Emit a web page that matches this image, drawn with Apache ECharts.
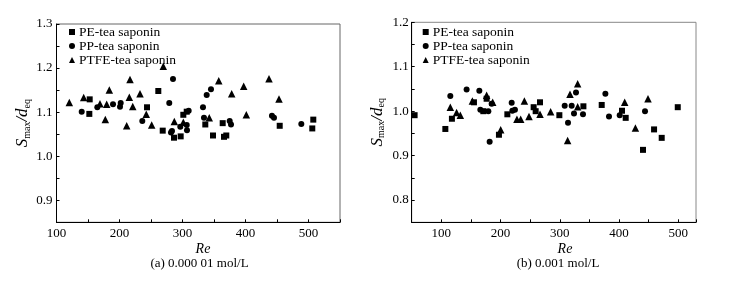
<!DOCTYPE html>
<html><head><meta charset="utf-8">
<script src="https://cdn.jsdelivr.net/npm/echarts@6/dist/echarts.min.js"></script>
<style>html,body{margin:0;padding:0;background:#fff}#c{width:740px;height:281px}</style>
</head><body><div id="c"></div>
<script>
const seriesNames = ['PE-tea saponin', 'PP-tea saponin', 'PTFE-tea saponin'];
const xTicksA = [100, 200, 300, 400, 500];
const xTicksB = [100, 200, 300, 400, 500];
const yTicksA = [0.9, 1.0, 1.1, 1.2, 1.3];
const yTicksB = [0.8, 0.9, 1.0, 1.1, 1.2];
const captionA = '(a) 0.000 01 mol/L';
const captionB = '(b) 0.001 mol/L';

// (a) 0.000 01 mol/L
const peA = [[152.7,1.129],[152.1,1.096],[243.7,1.111],[261.6,1.148],[268.6,1.058],[286.5,1.042],[297.1,1.045],[301.3,1.094],[306.7,1.101],[336.2,1.072],[348.4,1.047],[363.8,1.075],[365.9,1.044],[369.5,1.047],[454.3,1.069],[507.6,1.083],[506.0,1.063]];
const ppA = [[140.0,1.101],[164.8,1.111],[189.7,1.118],[201.9,1.121],[200.8,1.112],[236.2,1.080],[284.9,1.175],[279.0,1.121],[281.7,1.054],[283.3,1.057],[296.5,1.067],[309.8,1.103],[306.7,1.071],[307.1,1.059],[332.5,1.111],[338.4,1.139],[345.2,1.152],[334.1,1.087],[374.9,1.080],[377.0,1.072],[442.0,1.092],[445.2,1.087],[488.6,1.073]];
const ptfeA = [[120.3,1.122],[143.2,1.133],[169.0,1.119],[179.7,1.118],[183.8,1.150],[177.5,1.083],[216.7,1.174],[215.6,1.134],[221.0,1.113],[232.5,1.142],[211.4,1.069],[242.5,1.095],[251.1,1.071],[269.5,1.204],[287.0,1.079],[301.3,1.077],[342.5,1.087],[357.5,1.171],[378.1,1.142],[397.1,1.159],[401.3,1.094],[437.3,1.176],[453.2,1.130]];

// (b) 0.001 mol/L
const peB = [[54.9,0.991],[106.8,0.960],[117.9,0.983],[155.1,1.020],[176.5,1.028],[170.9,1.000],[197.3,0.947],[211.5,0.993],[255.9,1.009],[259.3,1.000],[266.6,1.020],[299.3,0.991],[339.9,1.011],[370.8,1.014],[405.1,1.001],[411.3,0.985],[440.5,0.913],[459.2,0.959],[472.1,0.940],[499.2,1.009]];
const ppB = [[115.2,1.034],[142.7,1.049],[164.2,1.046],[185.0,1.017],[165.9,1.003],[179.4,1.000],[181.6,0.931],[218.8,1.019],[219.9,1.001],[224.3,1.003],[308.3,1.012],[313.9,0.974],[320.1,1.012],[324.0,0.995],[327.4,1.042],[339.2,0.993],[377.0,1.039],[383.1,0.988],[401.2,0.991],[443.9,1.000]];
const ptfeB = [[115.2,1.009],[125.8,0.997],[132.1,0.991],[152.4,1.023],[176.5,1.036],[186.7,1.020],[200.2,0.958],[227.7,0.982],[234.0,0.982],[240.2,1.023],[248.0,0.988],[266.6,0.993],[284.6,0.999],[313.3,0.934],[317.3,1.038],[330.2,1.062],[330.2,1.010],[409.6,1.020],[427.7,0.962],[449.0,1.028]];

const FONT = 'Liberation Serif';
const chart = echarts.init(document.getElementById('c'), null, {renderer: 'canvas'});

function near(v, list) { return list.some(t => Math.abs(t - v) < 1e-6); }

function xAxis(idx, min, max, ticks) {
  return {
    type: 'value', gridIndex: idx, min: min, max: max, interval: 50,
    axisLine: {show: true, lineStyle: {color: '#000', width: 1}},
    axisTick: {show: true, inside: true, length: 3, lineStyle: {color: '#000'}},
    splitLine: {show: false},
    axisLabel: {color: '#000', fontFamily: FONT, fontSize: 13, margin: 5,
      showMinLabel: true, showMaxLabel: true,
      formatter: v => near(v, ticks) ? String(Math.round(v)) : ''}
  };
}
function yAxis(idx, min, max, ticks, gap, margin) {
  return {
    type: 'value', gridIndex: idx, min: min, max: max, interval: 0.05,
    axisLine: {show: true, lineStyle: {color: '#000', width: 1}},
    axisTick: {show: true, inside: true, length: 3, lineStyle: {color: '#000'}},
    splitLine: {show: false},
    axisLabel: {color: '#000', fontFamily: FONT, fontSize: 13, margin: margin,
      formatter: v => near(v, ticks) ? v.toFixed(1) : ''},
    name: '{s|S}{sub|max}{s|/d}{sub|eq}',
    nameLocation: 'middle', nameRotate: 90, nameGap: gap,
    nameTextStyle: {rich: {
      s: {fontFamily: FONT, fontStyle: 'italic', fontSize: 17, color: '#000'},
      sub: {fontFamily: FONT, fontSize: 10, color: '#000', padding: [9, 0, 0, 0]}
    }}
  };
}
function scatter(name, data, idx, symbol, size) {
  return {type: 'scatter', name: name, data: data, xAxisIndex: idx, yAxisIndex: idx,
    symbol: symbol, symbolSize: size, itemStyle: {color: '#000', opacity: 1},
    emphasis: {disabled: true}, silent: true};
}
function legend(left) {
  return {orient: 'vertical', left: left, top: 25, itemGap: 0, itemWidth: 6, itemHeight: 6,
    selectedMode: false, padding: 0,
    textStyle: {fontFamily: FONT, fontSize: 13.5, color: '#000', lineHeight: 12, padding: [0, 0, 0, -1]},
    data: [{name: seriesNames[0], icon: 'rect'}, {name: seriesNames[1], icon: 'circle'}, {name: seriesNames[2], icon: 'triangle'}]};
}

chart.setOption({
  animation: false,
  backgroundColor: '#fff',
  grid: [
    {left: 56.5, top: 24, width: 283.5, height: 198.3, show: true, borderColor: '#666', borderWidth: 1, containLabel: false},
    {left: 411.7, top: 22.3, width: 284.3, height: 200, show: true, borderColor: '#888', borderWidth: 1, containLabel: false}
  ],
  xAxis: [xAxis(0, 100, 550, xTicksA), xAxis(1, 50, 530, xTicksB)],
  yAxis: [yAxis(0, 0.85, 1.3, yTicksA, 21, 4), yAxis(1, 0.75, 1.2, yTicksB, 25, 3)],
  legend: [legend(69), legend(422.7)],
  series: [
    scatter(seriesNames[0], peA, 0, 'rect', 6),
    scatter(seriesNames[1], ppA, 0, 'circle', 6),
    scatter(seriesNames[2], ptfeA, 0, 'triangle', 7.5),
    scatter(seriesNames[0], peB, 1, 'rect', 6),
    scatter(seriesNames[1], ppB, 1, 'circle', 6),
    scatter(seriesNames[2], ptfeB, 1, 'triangle', 7.5)
  ],
  graphic: [
    {type: 'text', x: 203, y: 249, style: {text: 'Re', font: 'italic 14px "Liberation Serif"', fill: '#000', align: 'center', verticalAlign: 'middle'}},
    {type: 'text', x: 199.5, y: 264, style: {text: captionA, font: '13px "Liberation Serif"', fill: '#000', align: 'center', verticalAlign: 'middle'}},
    {type: 'text', x: 565, y: 249, style: {text: 'Re', font: 'italic 14px "Liberation Serif"', fill: '#000', align: 'center', verticalAlign: 'middle'}},
    {type: 'text', x: 558, y: 264, style: {text: captionB, font: '13px "Liberation Serif"', fill: '#000', align: 'center', verticalAlign: 'middle'}}
  ]
});
</script></body></html>
